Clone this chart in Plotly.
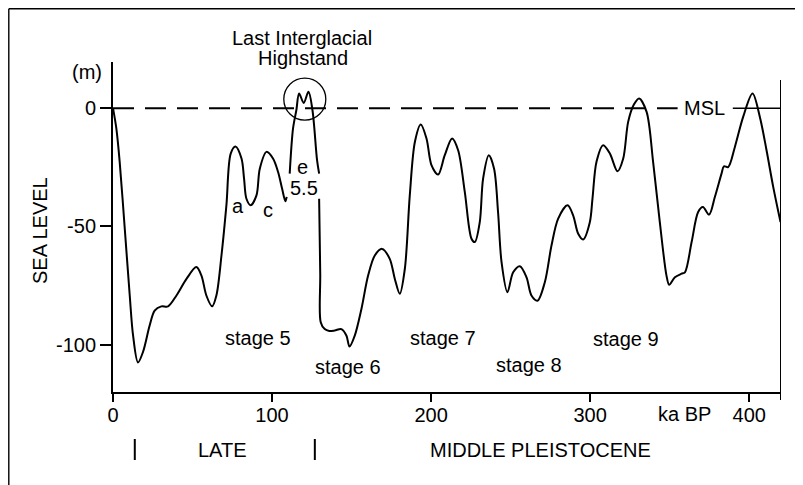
import plotly.graph_objects as go

# ---- data (ka BP, sea level in m); None marks gaps in the drawn curve ----
age_ka = [0, 2.1, 4.2, 7.4, 10.5, 12.6, 15.7, 18.9, 23, 26.2, 30.4, 34.6, 39.9, 46.2, 52.4,
          55.6, 58.7, 62.3, 65, 68.2, 71.3, 74, 77, 80.8, 82.4, 83.9, 86.6, 90.2, 92.3,
          96.5, 100.6, 103.8, 106.3, 108.4, 109.2,
          None,
          111.1, 113.2, 115.3, 117, 119.9, 122.9, 125.4, 128.3, 129.6,
          None,
          129.6, 130.3, 130.6, 133.1, 136, 139.4, 143.6, 146.8, 148.7, 152, 156.2, 160.4,
          164.6, 169.2, 174, 177.2, 180.3, 183.5, 186.6, 189.8, 193.5, 197.1, 200.3, 204.4,
          208.6, 213.2, 217, 221.2, 225.4, 227.5, 230.6, 232.7, 236.3, 239.6, 242.1, 244.3,
          248, 251.6, 255.8, 260, 263.1, 266.9, 271.5, 275.7, 279.9, 285.8, 289.3, 292.5,
          295.6, 299.8, 301.5, 304, 308.2, 312.4, 317.2, 320.8, 323.9, 327.5, 330.8, 335.5,
          339.6, 343.8, 348, 349.7, 353.3, 357.5, 359.6, 363.8, 367.9, 370.9, 374.8, 378.4,
          382.6, 384.1, 386.8, 391, 396.2, 402.1, 406.7, 410.9, 415.1, 419.7]
sea_level_m = [0, -8.6, -22.7, -51, -79, -96, -107.5, -103, -92, -85.6, -83.8, -83.8, -79.2,
               -72.2, -67.2, -70.8, -79.2, -83.8, -79.2, -62.3, -41.1, -19.2, -16.2, -21.3,
               -29.8, -38.3, -41.1, -36.9, -25.6, -18.5, -21.3, -27.0, -34.0, -39.4, -37.5,
               None,
               -27.7, -8.6, -0.8, 6.2, 2.2, 6.9, -0.8, -22, -27.7,
               None,
               -38.3, -70, -90.5, -93.4, -94.2, -94, -93.4, -96.2, -100.8, -96.2, -84.9, -70.8,
               -62.3, -59.5, -63.7, -72.2, -78.5, -67.9, -36.9, -14.3, -6.9, -12.8, -24.2,
               -28.1, -19.9, -12.8, -17.8, -35.5, -55.2, -56.6, -48.2, -29.8, -19.9, -25.6,
               -43.9, -65.1, -77.8, -69.4, -66.8, -71.5, -79.2, -81.4, -73.6, -58.1, -46.7,
               -41.1, -45.3, -53.1, -55.5, -48.2, -38, -22.7, -15.7, -19.2, -26.7, -21.3, -5.8,
               1.5, 4.1, -1.6, -22.8, -48.2, -70.8, -74.7, -71.5, -70, -69.4, -56.6, -43.9,
               -41.8, -45, -37.6, -27.7, -24.6, -24.9, -16.4, -3.7, 6.2, -3.7, -17.8, -33.3,
               -48.2]

x_ticks = [0, 100, 200, 300, 400]
y_ticks = [0, -50, -100]
y_tick_labels = ["0", "-50", "-100"]
x_range = [0, 420]
y_range = [-120, 19.5]
msl_level = 0
msl_dash_end = 355
msl_solid_start = 389.7
period_bounds = [13.7, 126.9]

stage_labels = ["stage 5", "stage 6", "stage 7", "stage 8", "stage 9"]
stage_x = [91.1, 147.6, 207.3, 261.4, 322.4]
stage_y = [-97, -109.3, -97, -108.5, -97.5]
sub_labels = ["a", "c", "e", "5.5"]
sub_x = [78.4, 97.3, 119.3, 120.0]
sub_y = [-41.5, -43.2, -25, -33.9]

FONT = "Liberation Sans, Arial, Helvetica, sans-serif"
BLACK = "#000000"

# the page body has an 8px margin, so the figure is sized to end at the window edge
FIG_W, FIG_H = 795, 477
M_L, M_R, M_T, M_B = 105, 22, 54, 93
PW = FIG_W - M_L - M_R   # 668
PH = FIG_H - M_T - M_B   # 330

fig = go.Figure()
fig.add_trace(go.Scatter(
    x=age_ka, y=sea_level_m, mode="lines",
    line=dict(color=BLACK, width=2, shape="spline", smoothing=0.9),
    connectgaps=False, hoverinfo="skip", showlegend=False))

frame_x = (0.8 - M_L) / PW
frame_y = (PH + M_T - 0.8) / PH
shapes = [
    dict(type="line", xref="x", yref="y", x0=0, x1=msl_dash_end, y0=msl_level, y1=msl_level,
         line=dict(color=BLACK, width=2, dash="21px,11px")),
    dict(type="line", xref="x", yref="y", x0=msl_solid_start, x1=x_range[1], y0=msl_level,
         y1=msl_level, line=dict(color=BLACK, width=1.5)),
    dict(type="line", xref="x", yref="paper", x0=x_range[1], x1=x_range[1],
         y0=-8 / PH, y1=(PH - 18) / PH, line=dict(color=BLACK, width=2)),
    dict(type="circle", xref="x", yref="y", xsizemode="pixel", ysizemode="pixel",
         xanchor=120.6, yanchor=3.8, x0=-21, x1=21, y0=-21, y1=21,
         line=dict(color=BLACK, width=1.3)),
    dict(type="line", xref="paper", yref="paper", x0=frame_x, x1=frame_x,
         y0=-0.4, y1=frame_y, line=dict(color=BLACK, width=1.4)),
    dict(type="line", xref="paper", yref="paper", x0=frame_x, x1=1.1,
         y0=frame_y, y1=frame_y, line=dict(color=BLACK, width=1.4)),
]
for b in period_bounds:
    shapes.append(dict(type="line", xref="x", yref="paper", x0=b, x1=b,
                       y0=-47 / PH, y1=-68 / PH, line=dict(color=BLACK, width=2)))

annotations = []
def txt(x, y, t, xref="x", yref="y", size=20, angle=0):
    annotations.append(dict(x=x, y=y, xref=xref, yref=yref, text=t, showarrow=False,
                            xanchor="center", yanchor="middle", textangle=angle,
                            font=dict(family=FONT, size=size, color=BLACK)))

for t, x, y in zip(stage_labels, stage_x, stage_y):
    txt(x, y, t)
for t, x, y in zip(sub_labels, sub_x, sub_y):
    txt(x, y, t)
txt(372.2, 0, "MSL")
txt(359.2, -22 / PH, "ka BP", yref="paper")
txt(69, -58 / PH, "LATE", yref="paper")
txt(269, -58 / PH, "MIDDLE PLEISTOCENE", yref="paper")
txt(-26 / PW, 320 / PH, "(m)", xref="paper", yref="paper")
txt(-73 / PW, 161 / PH, "SEA LEVEL", xref="paper", yref="paper", angle=-90)
txt(118.9, 354.5 / PH, "Last Interglacial", yref="paper")
txt(119.5, 334 / PH, "Highstand", yref="paper")

fig.update_layout(
    width=FIG_W, height=FIG_H,
    margin=dict(l=M_L, r=M_R, t=M_T, b=M_B, pad=0),
    paper_bgcolor="white", plot_bgcolor="white",
    shapes=shapes, annotations=annotations,
    xaxis=dict(range=x_range, showline=True, linewidth=2, linecolor=BLACK,
               ticks="outside", ticklen=8, tickwidth=2, tickcolor=BLACK,
               tickvals=x_ticks, showgrid=False, zeroline=False, ticklabelstandoff=-4,
               tickfont=dict(family=FONT, size=20, color=BLACK)),
    yaxis=dict(range=y_range, showline=True, linewidth=2, linecolor=BLACK,
               ticks="outside", ticklen=11, tickwidth=2, tickcolor=BLACK,
               tickvals=y_ticks, ticktext=y_tick_labels, showgrid=False, zeroline=False,
               tickfont=dict(family=FONT, size=20, color=BLACK)),
)

fig.write_html("out.html")
